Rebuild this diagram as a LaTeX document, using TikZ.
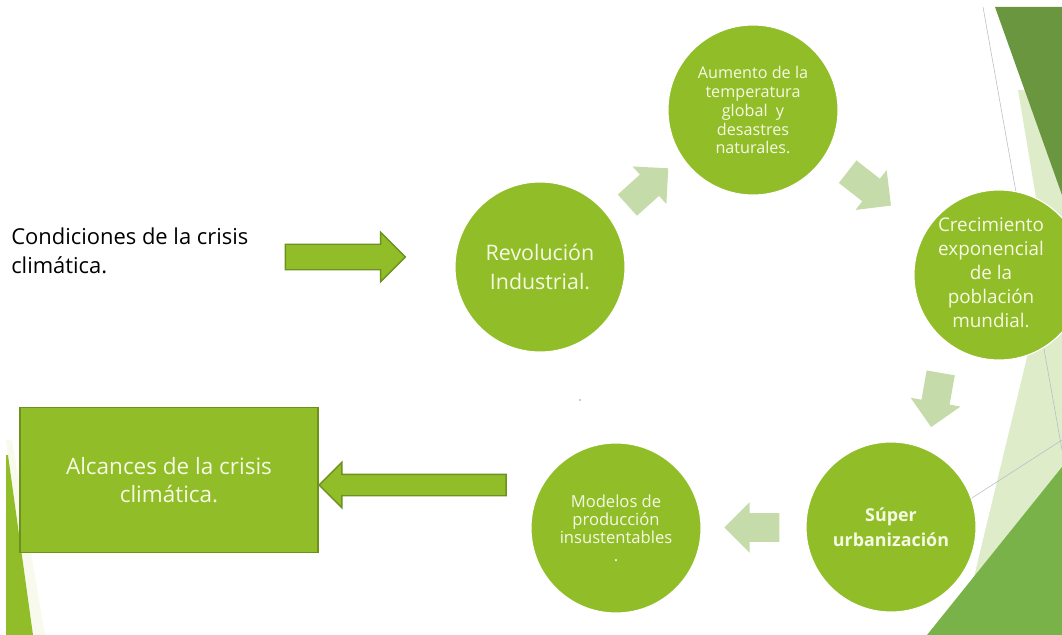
\documentclass[tikz,border=0pt]{standalone}
\usepackage{fontspec}
\setmainfont{Open Sans}
\usetikzlibrary{shapes}
\usetikzlibrary{shapes.arrows}
\usetikzlibrary{positioning}
\usetikzlibrary{calc}
\definecolor{leaf}{RGB}{145,190,40}
\definecolor{leafdark}{RGB}{108,145,30}
\definecolor{soft}{RGB}{198,219,170}
\definecolor{cream}{RGB}{246,249,228}
\definecolor{haze}{RGB}{248,250,238}
\definecolor{forest}{RGB}{106,150,64}
\definecolor{meadow}{RGB}{121,178,72}
\definecolor{mist}{RGB}{222,236,202}
\definecolor{thinline}{RGB}{185,188,200}

\begin{document}
\begin{tikzpicture}[x=0.025cm,y=-0.025cm]
  \tikzset{bubble/.style={circle, fill=leaf, draw=white, line width=0.8pt, minimum size=4.25cm, inner sep=0pt, text=cream, align=center}}
  \tikzset{bigarrow/.style={single arrow, fill=leaf, draw=leafdark, line width=1pt, inner xsep=0pt, single arrow head extend=0.3cm}}
  \tikzset{smallarrow/.style={single arrow, fill=soft, inner ysep=0.35cm, inner xsep=0pt, single arrow head extend=0.275cm, minimum height=1.375cm}}

  \useasboundingbox (0,0) rectangle (1062,635);

  % decoration right
  \fill[mist] (1018,90) -- (1048,270) -- (960,635) -- (1062,635) -- (1062,90) -- cycle;
  \fill[forest] (995,7) -- (1062,7) -- (1062,195) -- cycle;
  \draw[thinline, line width=0.4pt] (983,7) -- (1062,450);
  \draw[thinline, line width=0.4pt] (860,570) -- (1062,440);
  \fill[meadow] (1062,467) -- (1062,635) -- (927,635) -- cycle;
  % decoration left
  \fill[haze] (6,440) -- (12,440) -- (45,635) -- (33,635) -- cycle;
  \fill[leaf] (6,455) -- (8,455) -- (33,635) -- (6,635) -- cycle;

  \node[anchor=west, inner sep=0pt, align=left, text=black, font=\fontsize{15.6}{21}\selectfont] (cond) at (11,251) {Condiciones de la crisis\\climática.};

  \node[bubble, font=\fontsize{15.2}{20}\selectfont] (rev) at (540,267) {Revolución\\Industrial.};
  \node[bubble, font=\fontsize{11.5}{13.5}\selectfont] (aum) at (753,110) {Aumento de la\\temperatura\\global \ y\\desastres\\naturales.};
  \node[bubble] (cre) at (999,275) {};
  \node[text=cream, align=center, inner sep=0pt, font=\fontsize{13.4}{17}\selectfont] (crelabel) at ($(cre)+(-8,-2)$) {Crecimiento\\exponencial\\de la\\población\\mundial.};
  \node[bubble, font=\bfseries\fontsize{12.7}{17.8}\selectfont] (sup) at (891,527) {Súper\\urbanización};
  \node[bubble, font=\fontsize{11.8}{12.8}\selectfont] (mod) at (616,528) {Modelos de\\producción\\insustentables\\.};

  \node[rectangle, fill=leaf, draw=leafdark, line width=1pt, minimum width=7.45cm, minimum height=3.625cm, text=cream, align=center, font=\fontsize{16}{20}\selectfont] (alc) at (169,480) {Alcances de la crisis\\climática.};

  % big arrows
  \node[bigarrow, inner ysep=0.3cm, minimum height=3.0cm] (a0) at (339,257) {};
  \node[bigarrow, inner ysep=0.25cm, minimum height=4.675cm, rotate=180] (a5) at (418,485) {};

  % small arrows round the cycle
  \node[smallarrow, rotate=42] (a1) at ($(rev)!0.5!(aum)+(-4,3)$) {};
  \node[smallarrow, rotate=-38] (a2) at ($(aum)!0.45!(cre)$) {};
  \node[smallarrow, rotate=-100] (a3) at ($(cre)!0.48!(sup)+(-10,-3)$) {};
  \node[smallarrow, rotate=180] (a4) at ($(sup)!0.48!(mod)$) {};

  \fill[thinline] (580,400) circle (1.2);
\end{tikzpicture}
\end{document}
